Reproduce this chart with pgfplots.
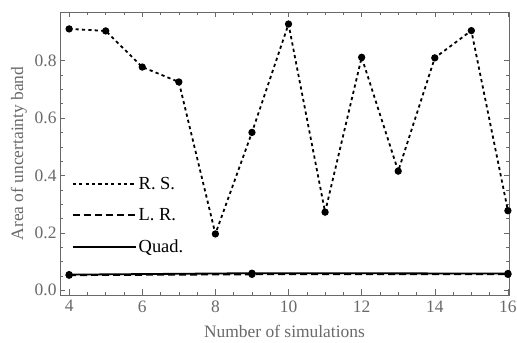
\documentclass[border=0pt]{standalone}
\usepackage{pgfplots}
\pgfplotsset{compat=1.18}
\usepackage{fontspec}
\setmainfont{Liberation Serif}
\definecolor{axgray}{RGB}{105,105,105}
\begin{document}
\begin{tikzpicture}
\begin{axis}[
  name=ax,
  scale only axis,
  width=449bp, height=283bp,
  xmin=3.75, xmax=16.03, ymin=-0.017, ymax=0.97,
  xtick={4,6,...,16}, minor x tick num=3,
  ytick={0,0.2,0.4,0.6,0.8}, minor y tick num=3,
  yticklabel style={/pgf/number format/.cd,fixed,fixed zerofill,precision=1},
  /pgf/number format/assume math mode=true,
  tick align=inside,
  major tick length=5.5bp, minor tick length=3bp,
  axis line style={axgray, line width=0.6pt},
  every tick/.style={axgray, line width=0.5pt},
  tick label style={font=\fontsize{17.5}{21}\selectfont, text=axgray},
  xticklabel style={yshift=-2bp},
  label style={font=\fontsize{17.5}{21}\selectfont, text=axgray},
  xlabel={Number of simulations},
  xlabel style={yshift=-6bp},
  ylabel={Area of uncertainty band},
  ylabel style={yshift=1bp},
  legend style={at={(0.026,0.425)}, anchor=north west, draw=none, fill=none,
    font=\fontsize{18.5}{22}\selectfont, row sep=14bp, inner sep=0pt},
  legend cell align=left,
  legend image code/.code={\draw[#1, mark=none, line width=1.9pt] (0bp,0bp) -- (54bp,0bp); \path (0bp,0bp) -- (63bp,0bp);},
]
\addplot[black, line width=1.8pt, dash pattern=on 3.2bp off 3.2bp, mark=*, mark size=2.7bp, mark options={solid}] coordinates {
(4,0.911) (5,0.904) (6,0.778) (7,0.726) (8,0.196) (9,0.550) (10,0.928) (11,0.272) (12,0.812) (13,0.415) (14,0.810) (15,0.905) (16,0.277)};
\addlegendentry{R. S.}
\addplot[black, line width=1.8pt, dash pattern=on 7bp off 4bp, mark=*, mark size=2.7bp, mark options={solid}] coordinates {
(4,0.052) (9,0.055) (16,0.055)};
\addlegendentry{L. R.}
\addplot[black, line width=1.8pt, mark=*, mark size=2.7bp] coordinates {
(4,0.054) (9,0.059) (16,0.058)};
\addlegendentry{Quad.}
\end{axis}
\pgfresetboundingbox
\path[use as bounding box] ([shift={(-60bp,-48bp)}]ax.south west) rectangle ([shift={(8bp,12bp)}]ax.north east);
\end{tikzpicture}
\end{document}
